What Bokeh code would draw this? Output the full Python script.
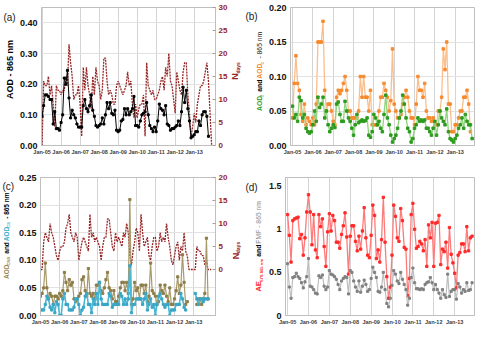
import math
from bokeh.plotting import figure
from bokeh.models import Range1d, LinearAxis, FixedTicker
from bokeh.core.properties import value
from bokeh.layouts import row, column
from bokeh.embed import file_html
from bokeh.resources import INLINE

NaN = float("nan")

# ---------------- data ----------------
months = [2005 + i / 12 for i in range(108)]
year_ticks = [2005, 2006, 2007, 2008, 2009, 2010, 2011, 2012, 2013]
year_labels = ["Jan-05", "Jan-06", "Jan-07", "Jan-08", "Jan-09", "Jan-10", "Jan-11", "Jan-12", "Jan-13"]

# (a)
a_aod = [0.095, 0.13, 0.165, 0.165, 0.16, 0.15, 0.15, 0.07, 0.11, 0.055, 0.055, 0.05,
         0.075, 0.10, 0.22, 0.20, 0.245, 0.155, 0.09, 0.115, 0.10, 0.09, 0.07, 0.06,
         0.06, 0.06, 0.13, 0.15, 0.12, 0.11, 0.13, 0.165, 0.115, 0.095, 0.065, 0.06,
         0.065, 0.07, 0.09, 0.07, 0.10, 0.14, 0.12, 0.14, 0.105, 0.10, 0.115, 0.05,
         0.045, 0.05, 0.08, 0.085, 0.12, 0.10, 0.12, 0.10, 0.11, 0.12, 0.16, 0.065,
         0.065, 0.06, 0.08, 0.10, 0.105, 0.11, 0.14, 0.10, 0.065, 0.055, 0.045, 0.06,
         0.045, 0.08, 0.135, 0.12, 0.115, 0.10, 0.13, 0.07, 0.065, 0.05, 0.055, 0.055,
         0.06, 0.065, 0.08, 0.065, 0.11, 0.19, 0.14, 0.18, 0.12, 0.08, 0.025, 0.03,
         0.035, 0.045, 0.045, 0.08, 0.065, 0.10, 0.11, 0.11, 0.095, 0.03, NaN, NaN]
a_ndays = [0, 14, 13, 13, 15, 11, 13, 9, 4, 13, 12, 12,
           11, 12, 12, 15, 13, 22, 18, 15, 10, 11, 11, 13,
           9, 2, 17, 12, 17, 13, 11, 8, 15, 11, 17, 14,
           13, 10, 12, 19, 19, 14, 11, 12, 11, 9, 9, 13,
           14, 13, 12, 11, 12, 13, 16, 13, 14, 9, 6, 9,
           6, 8, 9, 9, 11, 2, 18, 13, 12, 11, 12, 10,
           10, 11, 12, 14, 15, 12, 17, 15, 20, 14, 13, 10,
           7, 16, 14, 12, 11, 16, 18, 18, 11, 7, 2, 4,
           7, 5, 9, 11, 13, 13, 14, 16, 18, 14, 7, 0]
a_yticks = [0.0, 0.1, 0.2, 0.3, 0.4]
a_ylabels = ["0.00", "0.10", "0.20", "0.30", "0.40"]
a_nticks = [0, 5, 10, 15, 20, 25, 30]
a_nlabels = ["0", "5", "10", "15", "20", "25", "30"]

# (b)
b_aodc = [0.04, 0.09, 0.13, 0.09, 0.08, 0.045, 0.035, 0.06, 0.03, 0.04, 0.035, 0.03,
          0.04, 0.03, 0.06, 0.15, 0.15, 0.15, 0.18, 0.08, 0.05, 0.06, 0.06, 0.05,
          0.035, 0.03, 0.07, 0.08, 0.075, 0.08, 0.09, 0.10, 0.08, 0.05, 0.05, 0.04,
          0.04, 0.04, 0.04, 0.05, 0.10, 0.07, 0.10, 0.07, 0.07, 0.05, 0.08, 0.03,
          0.03, 0.03, 0.03, 0.05, 0.07, 0.07, 0.09, 0.08, 0.07, 0.05, 0.065, 0.14,
          0.06, 0.05, 0.04, 0.04, 0.045, 0.06, 0.07, 0.08, 0.07, 0.05, 0.04, 0.04,
          0.03, 0.06, 0.10, 0.08, 0.08, 0.07, 0.09, 0.05, 0.04, 0.04, 0.035, 0.04,
          0.03, 0.03, 0.05, 0.05, 0.07, 0.14, 0.11, 0.15, 0.06, 0.06, 0.02, 0.02,
          0.03, 0.03, 0.04, 0.05, 0.05, 0.07, 0.07, 0.08, 0.06, 0.02, NaN, NaN]
b_aodf = [0.057, 0.04, 0.045, 0.035, 0.07, 0.065, 0.04, 0.045, 0.025, 0.02, 0.018, 0.02,
          0.03, 0.05, 0.035, 0.07, 0.055, 0.06, 0.07, 0.04, 0.05, 0.03, 0.02, 0.025,
          0.03, 0.026, 0.06, 0.063, 0.045, 0.035, 0.035, 0.064, 0.05, 0.04, 0.035, 0.025,
          0.015, 0.03, 0.045, 0.033, 0.035, 0.037, 0.035, 0.036, 0.04, 0.015, 0.012, 0.02,
          0.045, 0.04, 0.03, 0.035, 0.025, 0.02, 0.045, 0.073, 0.04, 0.03, 0.015, 0.005,
          0.01, 0.015, 0.025, 0.04, 0.05, 0.073, 0.06, 0.04, 0.025, 0.02, 0.005, 0.01,
          0.025, 0.03, 0.04, 0.035, 0.037, 0.035, 0.037, 0.025, 0.025, 0.02, 0.015, 0.025,
          0.035, 0.015, 0.03, 0.05, 0.04, 0.035, 0.03, 0.053, 0.02, 0.01, 0.008, 0.005,
          0.01, 0.015, 0.025, 0.03, 0.04, 0.025, 0.045, 0.035, 0.03, 0.03, 0.01, NaN]
b_yticks = [0.0, 0.05, 0.10, 0.15, 0.20]
b_ylabels = ["0.00", "0.05", "0.10", "0.15", "0.20"]

# (c)
c_cns = [0.035, 0.04, 0.05, 0.095, 0.05, 0.03, 0.04, 0.035, 0.02, 0.035, 0.035, 0.03,
         0.04, 0.035, 0.045, 0.078, 0.06, 0.045, 0.065, 0.055, 0.06, 0.03, 0.025, 0.03,
         0.035, 0.04, 0.065, 0.07, 0.045, 0.035, 0.085, 0.04, 0.035, 0.04, 0.03, 0.055,
         0.055, 0.06, 0.045, 0.04, 0.05, 0.065, 0.078, 0.05, 0.045, 0.03, 0.045, 0.025,
         0.025, 0.035, 0.05, 0.06, 0.06, 0.045, 0.06, 0.04, 0.21, 0.02, 0.03, 0.06,
         0.045, 0.05, 0.03, 0.055, 0.055, 0.04, 0.055, 0.025, 0.035, 0.095, 0.045, 0.04,
         0.035, 0.02, 0.025, 0.055, 0.045, 0.04, 0.055, 0.035, 0.025, 0.05, 0.02, 0.02,
         0.03, 0.045, 0.07, 0.04, 0.055, 0.11, 0.06, 0.02, 0.025, NaN, NaN, NaN,
         NaN, NaN, 0.02, 0.03, 0.03, 0.02, 0.03, 0.04, 0.14, 0.03, NaN, NaN]
c_cs = [0.01, 0.01, 0.01, 0.02, 0.035, 0.03, 0.015, 0.01, 0.02, 0.005, 0.025, 0.02,
        0.0, 0.0, 0.03, 0.04, 0.02, 0.02, 0.01, 0.01, 0.01, 0.015, 0.03, 0.03,
        0.02, 0.0, 0.01, 0.015, 0.035, 0.04, 0.02, 0.02, 0.005, 0.03, 0.02, 0.04,
        0.02, 0.06, 0.03, 0.02, 0.02, 0.02, 0.02, 0.04, 0.035, 0.015, 0.02, 0.02,
        0.02, 0.02, 0.04, 0.035, 0.02, 0.03, 0.02, 0.03, 0.09, 0.005, 0.02, 0.02,
        0.03, 0.03, 0.03, 0.03, 0.02, 0.03, 0.04, 0.01, 0.02, 0.03, 0.015, 0.02,
        0.0, 0.02, 0.035, 0.04, 0.03, 0.02, 0.015, 0.02, 0.02, 0.0, 0.01, 0.01,
        0.01, 0.02, 0.02, 0.02, 0.04, 0.03, 0.015, 0.01, NaN, NaN, NaN, NaN,
        NaN, 0.04, 0.03, 0.02, 0.03, 0.03, 0.025, 0.03, 0.03, 0.03, NaN, NaN]
c_ndays = [0, 0, 6, 8, 7, 6, 10, 8, 7, 5, 3, 2,
           4, 5, 5, 6, 9, 10, 12, 8, 7, 6, 8, 7,
           2, 4, 6, 7, 6, 5, 4, 12, 7, 8, 6, 7,
           6, 5, 2, 5, 7, 7, 11, 11, 8, 5, 4, 8,
           6, 7, 6, 5, 8, 7, 10, 8, 3, 1, 4, 6,
           9, 8, 4, 12, 8, 5, 6, 7, 3, 2, 5, 7,
           7, 4, 5, 8, 6, 7, 6, 10, 7, 5, 2, 1,
           3, 5, 6, 2, 5, 4, 8, 4, 3, 0, 0, 0,
           0, 0, 5, 4, 4, 3, 3, 1, 2, 0, 0, 0]
c_yticks = [0.0, 0.05, 0.10, 0.15, 0.20, 0.25]
c_ylabels = ["0.00", "0.05", "0.10", "0.15", "0.20", "0.25"]
c_nticks = [0, 5, 10, 15, 20]
c_nlabels = ["0", "5", "10", "15", "20"]

# (d)
d_ae = [1.17, 0.93, 0.62, 1.1, 1.12, 1.13, 1.14, 0.89, 0.94, 0.7, 0.9, 1.2,
        1.4, 1.2, 0.82, 1.17, 0.76, 0.67, 1.17, 1.03, 1.12, 0.8, 0.57, 0.97,
        1.18, 0.98, 1.16, 1.1, 0.85, 0.85, 0.78, 0.94, 1.04, 1.19, 0.91, 0.48,
        0.92, 1.04, 1.04, 0.86, 0.75, 0.92, 0.77, 0.98, 1.25, 0.9, 0.7, 0.67,
        0.93, 1.28, 1.16, 0.66, 0.76, 0.62, 0.88, 1.37, 0.85, 0.45, 0.2, 0.33,
        0.7, 1.28, 1.15, 0.9, 0.86, 1.24, 1.1, 0.79, 0.77, 0.23, 0.43, 1.17,
        1.3, 1.0, 0.78, 0.8, 0.86, 0.83, 0.75, 0.88, 0.57, 1.05, 0.9, 1.08,
        0.57, 1.07, 1.08, 1.16, 0.59, 0.77, 0.74, 0.85, 0.55, 1.02, 0.71, 0.61,
        0.49, 0.32, 0.7, 0.73, 0.83, 0.83, 0.74, 1.03, 0.75, 0.9, 0.92, NaN]
d_fmf = [0.6, 0.33, 0.2, 0.44, 0.45, 0.49, 0.45, 0.43, 0.38, 0.32, 0.39, 0.45,
         0.66, 0.34, 0.33, 0.3, 0.26, 0.25, 0.46, 0.44, 0.47, 0.34, 0.3, 0.33,
         0.52, 0.48, 0.47, 0.45, 0.42, 0.36, 0.3, 0.4, 0.43, 0.45, 0.44, 0.25,
         0.52, 0.5, 0.4, 0.33, 0.28, 0.4, 0.27, 0.34, 0.41, 0.36, 0.28, 0.3,
         0.43, 0.56, 0.5, 0.44, 0.28, 0.27, 0.33, 0.5, 0.3, 0.14, 0.1, 0.2,
         0.35, 0.52, 0.48, 0.4, 0.37, 0.5, 0.42, 0.36, 0.3, 0.12, 0.2, 0.44,
         0.55, 0.38, 0.31, 0.31, 0.3, 0.31, 0.3, 0.36, 0.38, 0.39, 0.44, 0.38,
         0.3, 0.36, 0.3, 0.26, 0.2, 0.3, 0.24, 0.21, 0.48, 0.22, 0.28, 0.3,
         0.3, 0.19, 0.37, 0.33, 0.26, 0.3, 0.28, 0.38, 0.29, 0.3, 0.38, NaN]
d_yticks = [0.0, 0.5, 1.0, 1.5]
d_ylabels = ["0", "0.5", "1", "1.5"]

# ---------------- styling helpers ----------------
FONT = "Liberation Sans"
DARKRED = "#962626"
GRID = "#D4D4D4"
H = 165
WF = 1.12  # width safety factor for composed labels

REG = {' ': 278, '-': 333, '.': 278, 'A': 667, 'C': 722, 'D': 722, 'E': 667, 'F': 611,
       'M': 833, 'N': 722, 'O': 778, 'S': 667, 'a': 556, 'c': 500, 'd': 556, 'f': 278,
       'm': 833, 'n': 556, 's': 500, 'y': 500}
BOLD = {' ': 278, '-': 333, '.': 278, 'A': 722, 'C': 722, 'D': 722, 'E': 667, 'F': 611,
        'M': 833, 'N': 722, 'O': 778, 'S': 667, 'a': 556, 'c': 556, 'd': 611, 'f': 333,
        'm': 889, 'n': 611, 's': 556, 'y': 556}


def tw(s, size, bold):
    t = BOLD if bold else REG
    return sum(t.get(ch, 556) for ch in s) / 1000.0 * size * WF


def strip(w):
    s = figure(width=w, height=H, x_range=Range1d(0, w), y_range=Range1d(0, H),
               output_backend="svg", toolbar_location=None,
               min_border_left=0, min_border_right=0, min_border_top=0, min_border_bottom=0,
               x_axis_location=None, y_axis_location=None)
    s.outline_line_color = None
    s.grid.visible = False
    s.background_fill_color = "white"
    s.border_fill_color = "white"
    return s


def vlabel(s, pieces, cx, cy_top):
    # pieces: (text, color, size, bold, xshift); cy_top measured from top of strip
    total = sum(tw(t, sz, b) for t, c, sz, b, sh in pieces)
    y = (H - cy_top) - total / 2.0
    for t, c, sz, b, sh in pieces:
        lead = len(t) - len(t.lstrip(" "))
        core = t.strip(" ")
        y += tw(" " * lead, sz, b)
        s.text(x=[cx + sh], y=[y], text=[core], angle=math.pi / 2,
               text_align="left", text_baseline="middle",
               text_font=value(FONT), text_font_size=value(f"{sz}px"),
               text_color=c, text_font_style="bold" if b else "normal")
        y += tw(t.lstrip(" "), sz, b)


def corner(s, text, x, ytop):
    s.text(x=[x], y=[H - ytop], text=[text], text_align="left", text_baseline="top",
           text_font=value(FONT), text_font_size=value("10px"), text_color="#222222")


def make_fig(w, bl, br, bt, bb, xr, yr, yticks, ylabels, hgrid=True):
    p = figure(width=w, height=H, x_range=Range1d(*xr), y_range=Range1d(*yr),
               output_backend="svg", toolbar_location=None,
               min_border_left=bl, min_border_right=br, min_border_top=bt,
               min_border_bottom=bb)
    p.background_fill_color = "white"
    p.border_fill_color = "white"
    p.outline_line_color = "#BFBFBF"
    p.outline_line_width = 1
    xa = p.xaxis[0]
    xa.ticker = FixedTicker(ticks=year_ticks)
    xa.major_label_overrides = dict(zip(year_ticks, year_labels))
    xa.major_label_text_font = FONT
    xa.major_label_text_font_size = "5.5px"
    xa.major_label_text_font_style = "bold"
    xa.major_label_text_color = "#404040"
    xa.major_label_standoff = 3
    xa.axis_line_color = "#BFBFBF"
    xa.major_tick_out = 0
    xa.major_tick_in = 0
    xa.minor_tick_out = 0
    xa.minor_tick_in = 0
    ya = p.yaxis[0]
    ya.ticker = FixedTicker(ticks=yticks)
    ya.major_label_overrides = dict(zip(yticks, ylabels))
    ya.major_label_text_font = FONT
    ya.major_label_text_font_size = "9px"
    ya.major_label_text_font_style = "bold"
    ya.major_label_text_color = "#111111"
    ya.major_label_standoff = 4
    ya.axis_line_color = "#BFBFBF"
    ya.major_tick_out = 0
    ya.major_tick_in = 0
    ya.minor_tick_out = 0
    ya.minor_tick_in = 0
    p.xgrid.grid_line_color = GRID
    p.xgrid.grid_line_width = 1
    p.ygrid.grid_line_color = "#E2E2E2" if hgrid else None
    return p


def right_axis(p, name, rng, ticks, labels):
    p.extra_y_ranges = {name: Range1d(*rng)}
    ax = LinearAxis(y_range_name=name, ticker=FixedTicker(ticks=ticks))
    ax.major_label_overrides = dict(zip(ticks, labels))
    ax.major_label_text_font = FONT
    ax.major_label_text_font_size = "8px"
    ax.major_label_text_font_style = "bold"
    ax.major_label_text_color = DARKRED
    ax.major_label_standoff = 3
    ax.axis_line_color = "#BFBFBF"
    ax.major_tick_in = 3
    ax.major_tick_out = 0
    ax.major_tick_line_color = "#A0A0A0"
    ax.minor_tick_in = 0
    ax.minor_tick_out = 0
    p.add_layout(ax, "right")


# ---------------- panel (a) ----------------
sa = strip(16)
corner(sa, "(a)", 2.9, 4.8)
vlabel(sa, [("AOD - 865 nm", "black", 9.0, True, 0)], 9.7, 76.3)

pa = make_fig(214, 21, 15, 7, 20, (2004.97, 2014.12), (0, 0.45), a_yticks, a_ylabels)
right_axis(pa, "n", (0, 30), a_nticks, a_nlabels)
pa.line(months, a_ndays, y_range_name="n", line_color=DARKRED, line_width=1.3, line_dash="2 1")
pa.line(months, a_aod, line_color="black", line_width=1.0)
pa.scatter(months, a_aod, marker="square", size=2.0, color="black")

san = strip(12)
vlabel(san, [("N", DARKRED, 9, True, 0), ("days", DARKRED, 5.0, True, 2.5)], 4.7, 76.3)

# ---------------- panel (b) ----------------
GREEN_T = "#2E9B1E"
ORANGE_T = "#F68A2E"
sb = strip(23)
corner(sb, "(b)", 2.9, 3.8)
vlabel(sb, [("AOD", GREEN_T, 6.8, True, 0), ("f", GREEN_T, 4.6, True, 2.2),
            ("  and ", "black", 6.8, True, 0),
            ("AOD", ORANGE_T, 6.8, True, 0), ("c", ORANGE_T, 4.6, True, 2.2),
            ("  - 865 nm", "#222222", 6.8, False, 0)], 17.4, 77.3)

pb = make_fig(219, 23, 10, 7, 19, (2004.9, 2013.95), (0, 0.20), b_yticks, b_ylabels)
pb.line(months, b_aodc, line_color="#FBBF8C", line_width=1.3)
pb.scatter(months, b_aodc, marker="square", size=2.5, color="#F68A2E")
pb.line(months, b_aodf, line_color="#8FD47E", line_width=1.3)
pb.scatter(months, b_aodf, marker="square", size=2.5, color="#2E9B1E")

# ---------------- panel (c) ----------------
OLIVE_T = "#9A8A52"
BLUE_T = "#3FAFD0"
sc = strip(14)
corner(sc, "(c)", 1.9, 3.8)
vlabel(sc, [("AOD", OLIVE_T, 6.5, True, 0), ("CNS", OLIVE_T, 4.2, True, 2.1),
            ("  and ", "black", 6.5, True, 0),
            ("AOD", BLUE_T, 6.5, True, 0), ("CS", BLUE_T, 4.2, True, 2.1),
            ("  - 865 nm", "black", 6.5, True, 0)], 5.8, 70.6)

pc = make_fig(216, 26, 15, 12, 15, (2005.0, 2014.14), (0, 0.25), c_yticks, c_ylabels)
right_axis(pc, "n", (-10, 20), c_nticks, c_nlabels)
pc.line(months, c_ndays, y_range_name="n", line_color=DARKRED, line_width=1.3, line_dash="2 1")
pc.line(months, c_cns, line_color="#A8996A", line_width=1.2)
pc.scatter(months, c_cns, marker="square", size=2.2, color="#8E7E4A")
pc.line(months, c_cs, line_color="#4DB6D3", line_width=1.6)
pc.scatter(months, c_cs, marker="square", size=2.2, color="#3AA6C6")

scn = strip(12)
vlabel(scn, [("N", DARKRED, 9, True, 0), ("days", DARKRED, 5.0, True, 2.5)], 5.0, 87.8)

# ---------------- panel (d) ----------------
RED_T = "#FF2A2A"
sd = strip(23)
corner(sd, "(d)", 2.9, 4.8)
vlabel(sd, [("AE", RED_T, 7.8, True, 0), ("670-865 nm", RED_T, 4.2, True, 2.5),
            ("  and ", "black", 6.8, True, 0),
            ("FMF - 865 nm", "#8C8C8C", 6.8, False, 0)], 16.4, 84.0)

pd_ = make_fig(219, 19, 10, 12, 14, (2004.9, 2013.95), (0, 1.6), d_yticks, d_ylabels, hgrid=False)
pd_.line(months, d_ae, line_color="#FF7B7B", line_width=1.3)
pd_.scatter(months, d_ae, marker="square", size=2.3, color="#FF2A2A")
pd_.line(months, d_fmf, line_color="#BDBDBD", line_width=1.2)
pd_.scatter(months, d_fmf, marker="square", size=2.1, color="#808080")

layout = column(row(sa, pa, san, sb, pb), row(sc, pc, scn, sd, pd_))
open("out.html", "w").write(file_html(layout, INLINE))
